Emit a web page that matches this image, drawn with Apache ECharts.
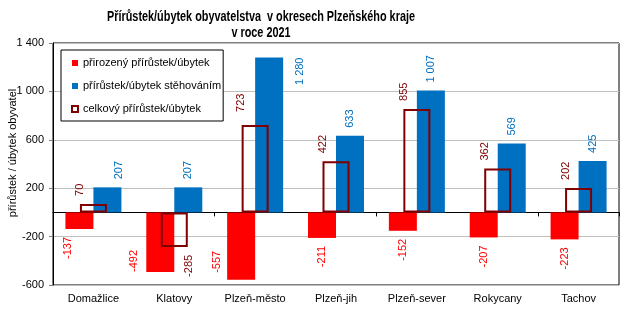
<!DOCTYPE html>
<html>
<head>
<meta charset="utf-8">
<script src="https://cdn.jsdelivr.net/npm/echarts@6/dist/echarts.min.js"></script>
<style>
html, body { margin: 0; padding: 0; background: #fff; }
#chart { width: 637px; height: 321px; }
</style>
</head>
<body>
<div id="chart"></div>
<script>
var categories = ['Domažlice', 'Klatovy', 'Plzeň-město', 'Plzeň-jih', 'Plzeň-sever', 'Rokycany', 'Tachov'];
var natural = [-137, -492, -557, -211, -152, -207, -223];
var migration = [207, 207, 1280, 633, 1007, 569, 425];
var total = [70, -285, 723, 422, 855, 362, 202];
var yTicks = { min: -600, max: 1400, interval: 400 };

var titleLines = ['Přírůstek/úbytek obyvatelstva  v okresech Plzeňského kraje', 'v roce 2021'];

var FONT = "'Liberation Sans', Arial, sans-serif";
var TITLE_FONT = "bold 14px 'Liberation Sans', Arial, sans-serif";

function fmt(v) {
	var s = String(Math.abs(v)).replace(/\B(?=(\d{3})+(?!\d))/g, ' ');
	return (v < 0 ? '-' : '') + s;
}

// title in the original is a narrow font, squeeze it to the same width
var ctx = document.createElement('canvas').getContext('2d');
ctx.font = TITLE_FONT;
var titleScale = 308 / ctx.measureText(titleLines[0]).width;

// label tweaks (Excel moved some labels around), offsets in screen px
var naturalLabelFix = {
	0: { offset: [-11, 0] },
	1: { align: 'left', distance: 0, offset: [-26, 0] },
	2: { align: 'left', distance: 0, offset: [-24, -7] }
};
var migrationLabelFix = {
	0: { offset: [12, 0] },
	2: { align: 'right', distance: 0, offset: [31, 0] }
};
var totalLabelFix = {
	1: { offset: [15, 0] },
	2: { offset: [-14, -5] }
};

// label offset is applied in the rotated (90deg) frame
function rotOffset(o) {
	return [-o[1], o[0]];
}

function makeData(values, fix, defOffset) {
	var out = [];
	for(var i = 0; i < values.length; i++) {
		var neg = values[i] < 0;
		var label = {
			position: neg ? 'bottom' : 'top',
			align: neg ? 'right' : 'left'
		};
		var off = defOffset || [0, 0];
		if(fix[i]) {
			for(var k in fix[i]) {
				if(k == 'offset') off = fix[i][k];
				else label[k] = fix[i][k];
			}
		}
		label.offset = rotOffset(off);
		out.push({ value: values[i], label: label });
	}
	return out;
}

function labelBase(color) {
	return {
		show: true,
		rotate: 90,
		verticalAlign: 'middle',
		distance: 8,
		color: color,
		fontSize: 11,
		fontFamily: FONT,
		formatter: function(p) { return fmt(p.value); }
	};
}

var option = {
	animation: false,
	backgroundColor: '#fff',
	graphic: [{
		type: 'text',
		x: 261,
		y: 17,
		scaleX: titleScale,
		style: {
			text: titleLines[0],
			font: TITLE_FONT,
			fill: '#000',
			align: 'center',
			verticalAlign: 'middle'
		}
	}, {
		type: 'text',
		x: 261,
		y: 33,
		scaleX: titleScale,
		style: {
			text: titleLines[1],
			font: TITLE_FONT,
			fill: '#000',
			align: 'center',
			verticalAlign: 'middle'
		}
	}],
	legend: {
		orient: 'vertical',
		left: 61,
		top: 50,
		padding: [6, 2, 5, 10],
		itemGap: 9,
		itemWidth: 6,
		itemHeight: 6,
		borderColor: '#000',
		borderWidth: 1,
		backgroundColor: '#fff',
		textStyle: { fontFamily: FONT, fontSize: 11, lineHeight: 14, color: '#000' },
		data: [
			{ name: 'přirozený přírůstek/úbytek', icon: 'rect' },
			{ name: 'přírůstek/úbytek stěhováním', icon: 'rect' },
			{ name: 'celkový přírůstek/úbytek', icon: 'rect', itemStyle: { color: '#fff', borderColor: '#800000', borderWidth: 2 } }
		]
	},
	grid: {
		left: 53,
		right: 18,
		top: 43,
		bottom: 36,
		show: true,
		borderColor: '#000',
		borderWidth: 1,
		containLabel: false,
		outerBoundsMode: 'none'
	},
	xAxis: [{
		type: 'category',
		position: 'bottom',
		data: categories,
		axisLine: { onZero: true, lineStyle: { color: '#000', width: 1 } },
		axisTick: { show: true, length: 4, lineStyle: { color: '#000' } },
		axisLabel: { show: false },
		splitLine: { show: false }
	}, {
		type: 'category',
		position: 'bottom',
		data: categories,
		axisLine: { show: false, onZero: false },
		axisTick: { show: false },
		axisLabel: { show: true, interval: 0, margin: 8, color: '#000', fontSize: 11, fontFamily: FONT },
		splitLine: { show: false }
	}],
	yAxis: {
		type: 'value',
		min: yTicks.min,
		max: yTicks.max,
		interval: yTicks.interval,
		name: 'přírůstek / úbytek obyvatel',
		nameLocation: 'middle',
		nameGap: 35,
		nameMoveOverlap: false,
		nameTextStyle: { fontFamily: FONT, fontSize: 11, color: '#000', padding: [0, 0, 0, 22] },
		axisLine: { show: true, lineStyle: { color: '#000' } },
		axisTick: { show: true, length: 4, lineStyle: { color: '#808080' } },
		axisLabel: {
			margin: 9,
			color: '#000',
			fontSize: 11,
			fontFamily: FONT,
			formatter: function(v) { return fmt(v); }
		},
		splitLine: { show: true, lineStyle: { color: '#BFBFBF', width: 1 } }
	},
	series: [{
		name: 'přirozený přírůstek/úbytek',
		type: 'bar',
		xAxisIndex: 0,
		barWidth: 28,
		barGap: '0%',
		itemStyle: { color: '#FF0000' },
		label: labelBase('#FF0000'),
		data: makeData(natural, naturalLabelFix)
	}, {
		name: 'přírůstek/úbytek stěhováním',
		type: 'bar',
		xAxisIndex: 0,
		barWidth: 28,
		barGap: '0%',
		itemStyle: { color: '#0070C0' },
		label: labelBase('#0070C0'),
		data: makeData(migration, migrationLabelFix)
	}, {
		name: 'celkový přírůstek/úbytek',
		type: 'bar',
		xAxisIndex: 1,
		barWidth: 27,
		z: 5,
		itemStyle: { color: 'rgba(0,0,0,0)', borderColor: '#800000', borderWidth: 2 },
		label: labelBase('#800000'),
		data: makeData(total, totalLabelFix, [-13, 0])
	}]
};

echarts.init(document.getElementById('chart'), null, { renderer: 'canvas' }).setOption(option);
</script>
</body>
</html>
